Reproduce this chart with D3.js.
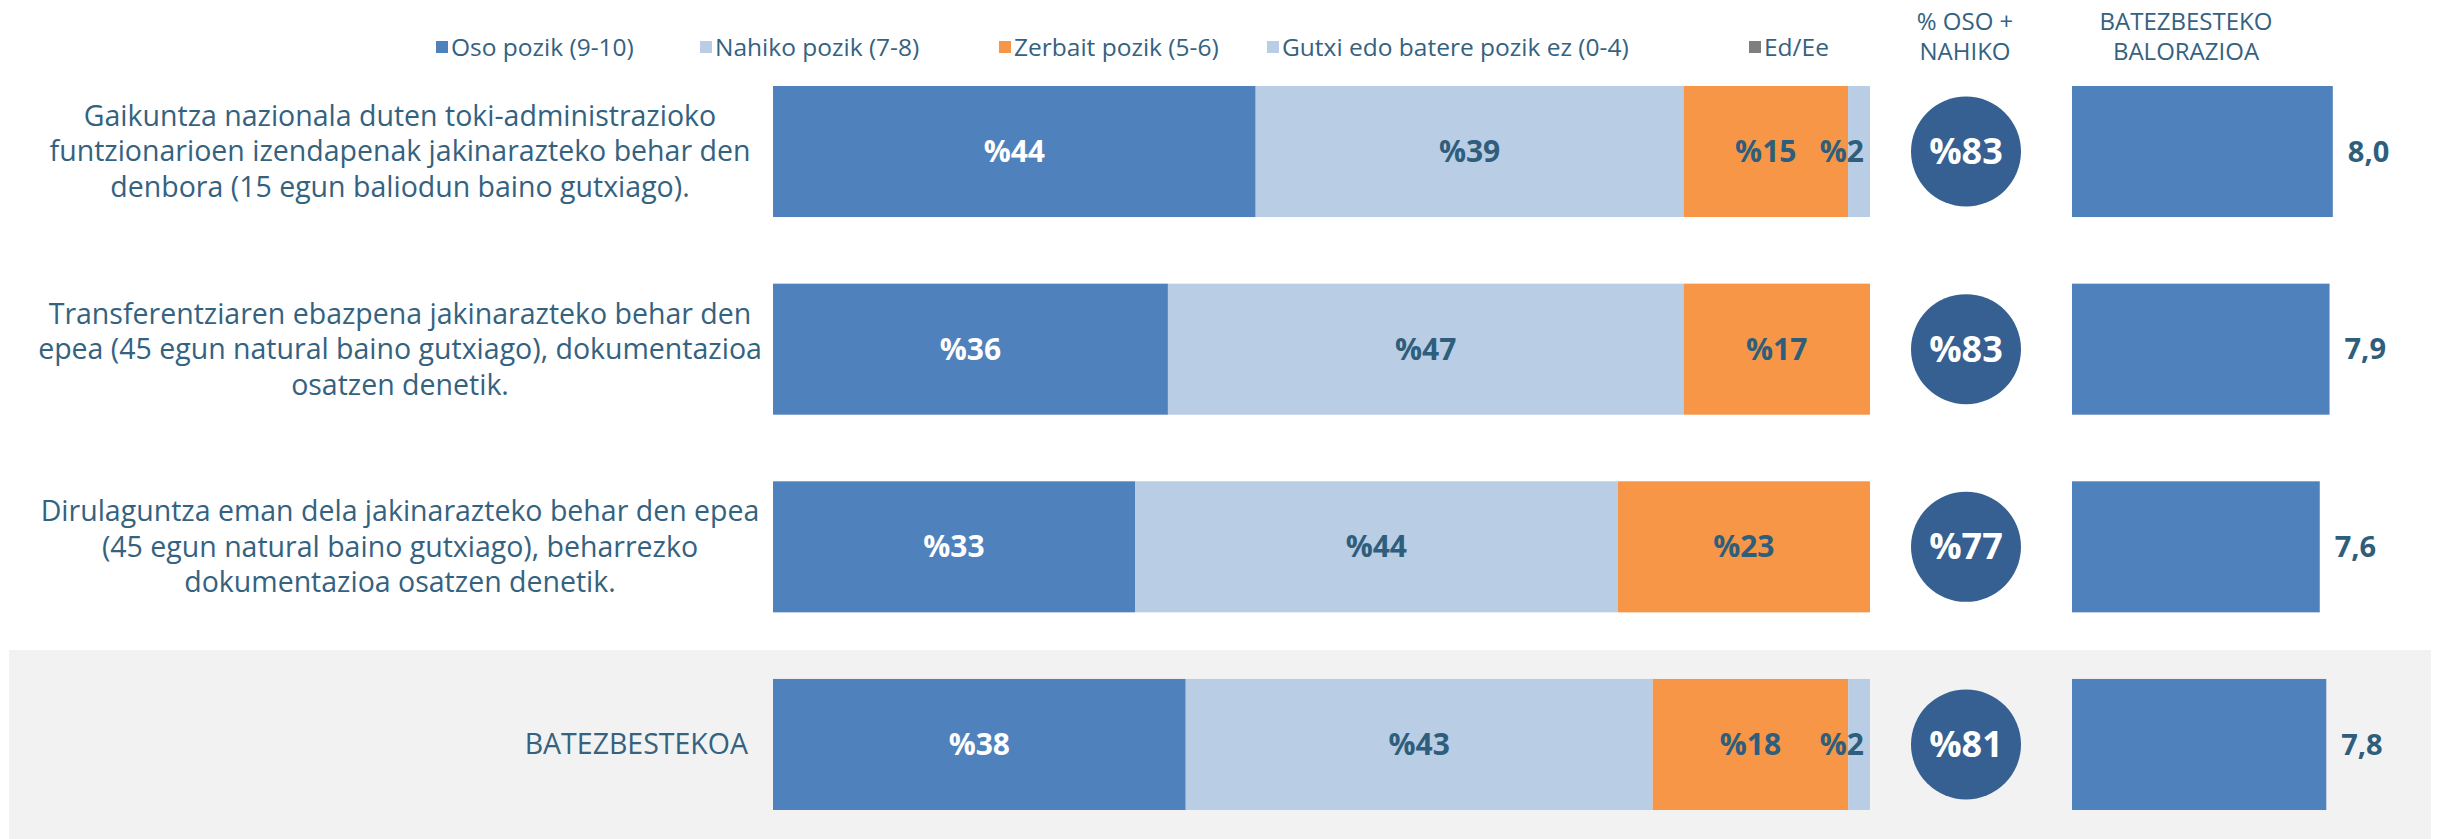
<!DOCTYPE html>
<html>
<head>
<meta charset="utf-8">
<script src="https://cdn.jsdelivr.net/npm/d3@7"></script>
<style>
  body{margin:0;background:#fff;}
  svg{display:block;font-family:"Century Gothic","Open Sans",sans-serif;}
</style>
</head>
<body>
<div id="grafico"></div>
<script>
// data
const categories=[
  ["Gaikuntza nazionala duten toki-administrazioko","funtzionarioen izendapenak jakinarazteko behar den","denbora (15 egun baliodun baino gutxiago)."],
  ["Transferentziaren ebazpena jakinarazteko behar den","epea (45 egun natural baino gutxiago), dokumentazioa","osatzen denetik."],
  ["Dirulaguntza eman dela jakinarazteko behar den epea","(45 egun natural baino gutxiago), beharrezko","dokumentazioa osatzen denetik."],
  ["BATEZBESTEKOA"]
];
const seriesNames=["Oso pozik (9-10)","Nahiko pozik (7-8)","Zerbait pozik (5-6)","Gutxi edo batere pozik ez (0-4)","Ed/Ee"];
const oso=[44,36,33,38];
const nahiko=[39,47,44,43];
const zerbait=[15,17,23,18];
const gutxi=[2,0,0,2];
const edee=[0,0,0,0];
const osoNahiko=[83,83,77,81];
const batezbesteko=[8.0,7.9,7.6,7.8];

const colors=["#4f81bd","#b9cde5","#f79646","#b9cde5","#7f7f7f"];
const textColor="#34627f";

const W=2440,H=839;
const svg=d3.select("#grafico").append("svg")
  .attr("width",W).attr("height",H);

const rows=d3.range(categories.length);
const y=d3.scaleBand().domain(rows).range([86,810]).paddingInner(0.337).paddingOuter(0);
const x=d3.scaleLinear().domain([0,100]).range([773,1870]);
const xAvg=d3.scaleLinear().domain([0,10]).range([2072,2398]);

// gray band behind average row
svg.append("rect")
  .attr("x",9).attr("y",650).attr("width",2422).attr("height",H-650)
  .attr("fill","#f2f2f2");

// legend
const legendX=[436,700,999,1267,1749];
const legend=svg.append("g").selectAll("g").data(seriesNames).enter().append("g")
  .attr("transform",(d,i)=>`translate(${legendX[i]},47)`);
legend.append("rect").attr("x",0).attr("y",-6).attr("width",12).attr("height",12)
  .attr("fill",(d,i)=>colors[i]);
legend.append("text").attr("x",15).attr("dy","0.35em")
  .attr("font-size",24.5).attr("fill",textColor).text(d=>d);

// headers
const headers=[{x:1965,lines:["% OSO +","NAHIKO"]},{x:2186,lines:["BATEZBESTEKO","BALORAZIOA"]}];
headers.forEach(h=>{
  h.lines.forEach((l,i)=>{
    svg.append("text").attr("x",h.x).attr("y",22+i*30).attr("dy","0.35em")
      .attr("text-anchor","middle").attr("font-size",24).attr("fill",textColor).text(l);
  });
});

// category labels
categories.forEach((lines,r)=>{
  const cy=y(r)+y.bandwidth()/2;
  const single=lines.length===1;
  lines.forEach((l,i)=>{
    svg.append("text")
      .attr("x",single?748:400)
      .attr("y",cy+(i-(lines.length-1)/2)*35.5)
      .attr("dy","0.35em")
      .attr("text-anchor",single?"end":"middle")
      .attr("font-size",28.5).attr("fill",textColor).text(l);
  });
});

// stacked bars
const series=[oso,nahiko,zerbait,gutxi,edee];
rows.forEach(r=>{
  const total=d3.sum(series,s=>s[r]);
  let acc=0;
  series.forEach((s,k)=>{
    const v=s[r];
    if(v<=0) return;
    const x0=x(acc/total*100), x1=x((acc+v)/total*100);
    acc+=v;
    svg.append("rect")
      .attr("x",x0).attr("y",y(r)).attr("width",x1-x0).attr("height",y.bandwidth())
      .attr("fill",colors[k]);
    const small=v<5;
    svg.append("text")
      .attr("x",small?x1-6:(x0+x1)/2)
      .attr("y",y(r)+y.bandwidth()/2).attr("dy","0.35em")
      .attr("text-anchor",small?"end":"middle")
      .attr("font-size",30).attr("font-weight","bold")
      .attr("fill",k===0?"#ffffff":"#2e5e7c")
      .text("%"+v);
  });
});

// circles
rows.forEach(r=>{
  const cy=y(r)+y.bandwidth()/2;
  svg.append("circle").attr("cx",1966).attr("cy",cy).attr("r",55).attr("fill","#366092");
  svg.append("text").attr("x",1966).attr("y",cy).attr("dy","0.35em")
    .attr("text-anchor","middle").attr("font-size",36).attr("font-weight","bold")
    .attr("fill","#fff").text("%"+osoNahiko[r]);
});

// average bars
rows.forEach(r=>{
  const v=batezbesteko[r];
  svg.append("rect").attr("x",xAvg(0)).attr("y",y(r))
    .attr("width",xAvg(v)-xAvg(0)).attr("height",y.bandwidth())
    .attr("fill","#4f81bd");
  svg.append("text").attr("x",xAvg(v)+15).attr("y",y(r)+y.bandwidth()/2).attr("dy","0.35em")
    .attr("font-size",29).attr("font-weight","bold").attr("fill","#2e5e7c")
    .text(v.toFixed(1).replace(".",","));
});
</script>
</body>
</html>
